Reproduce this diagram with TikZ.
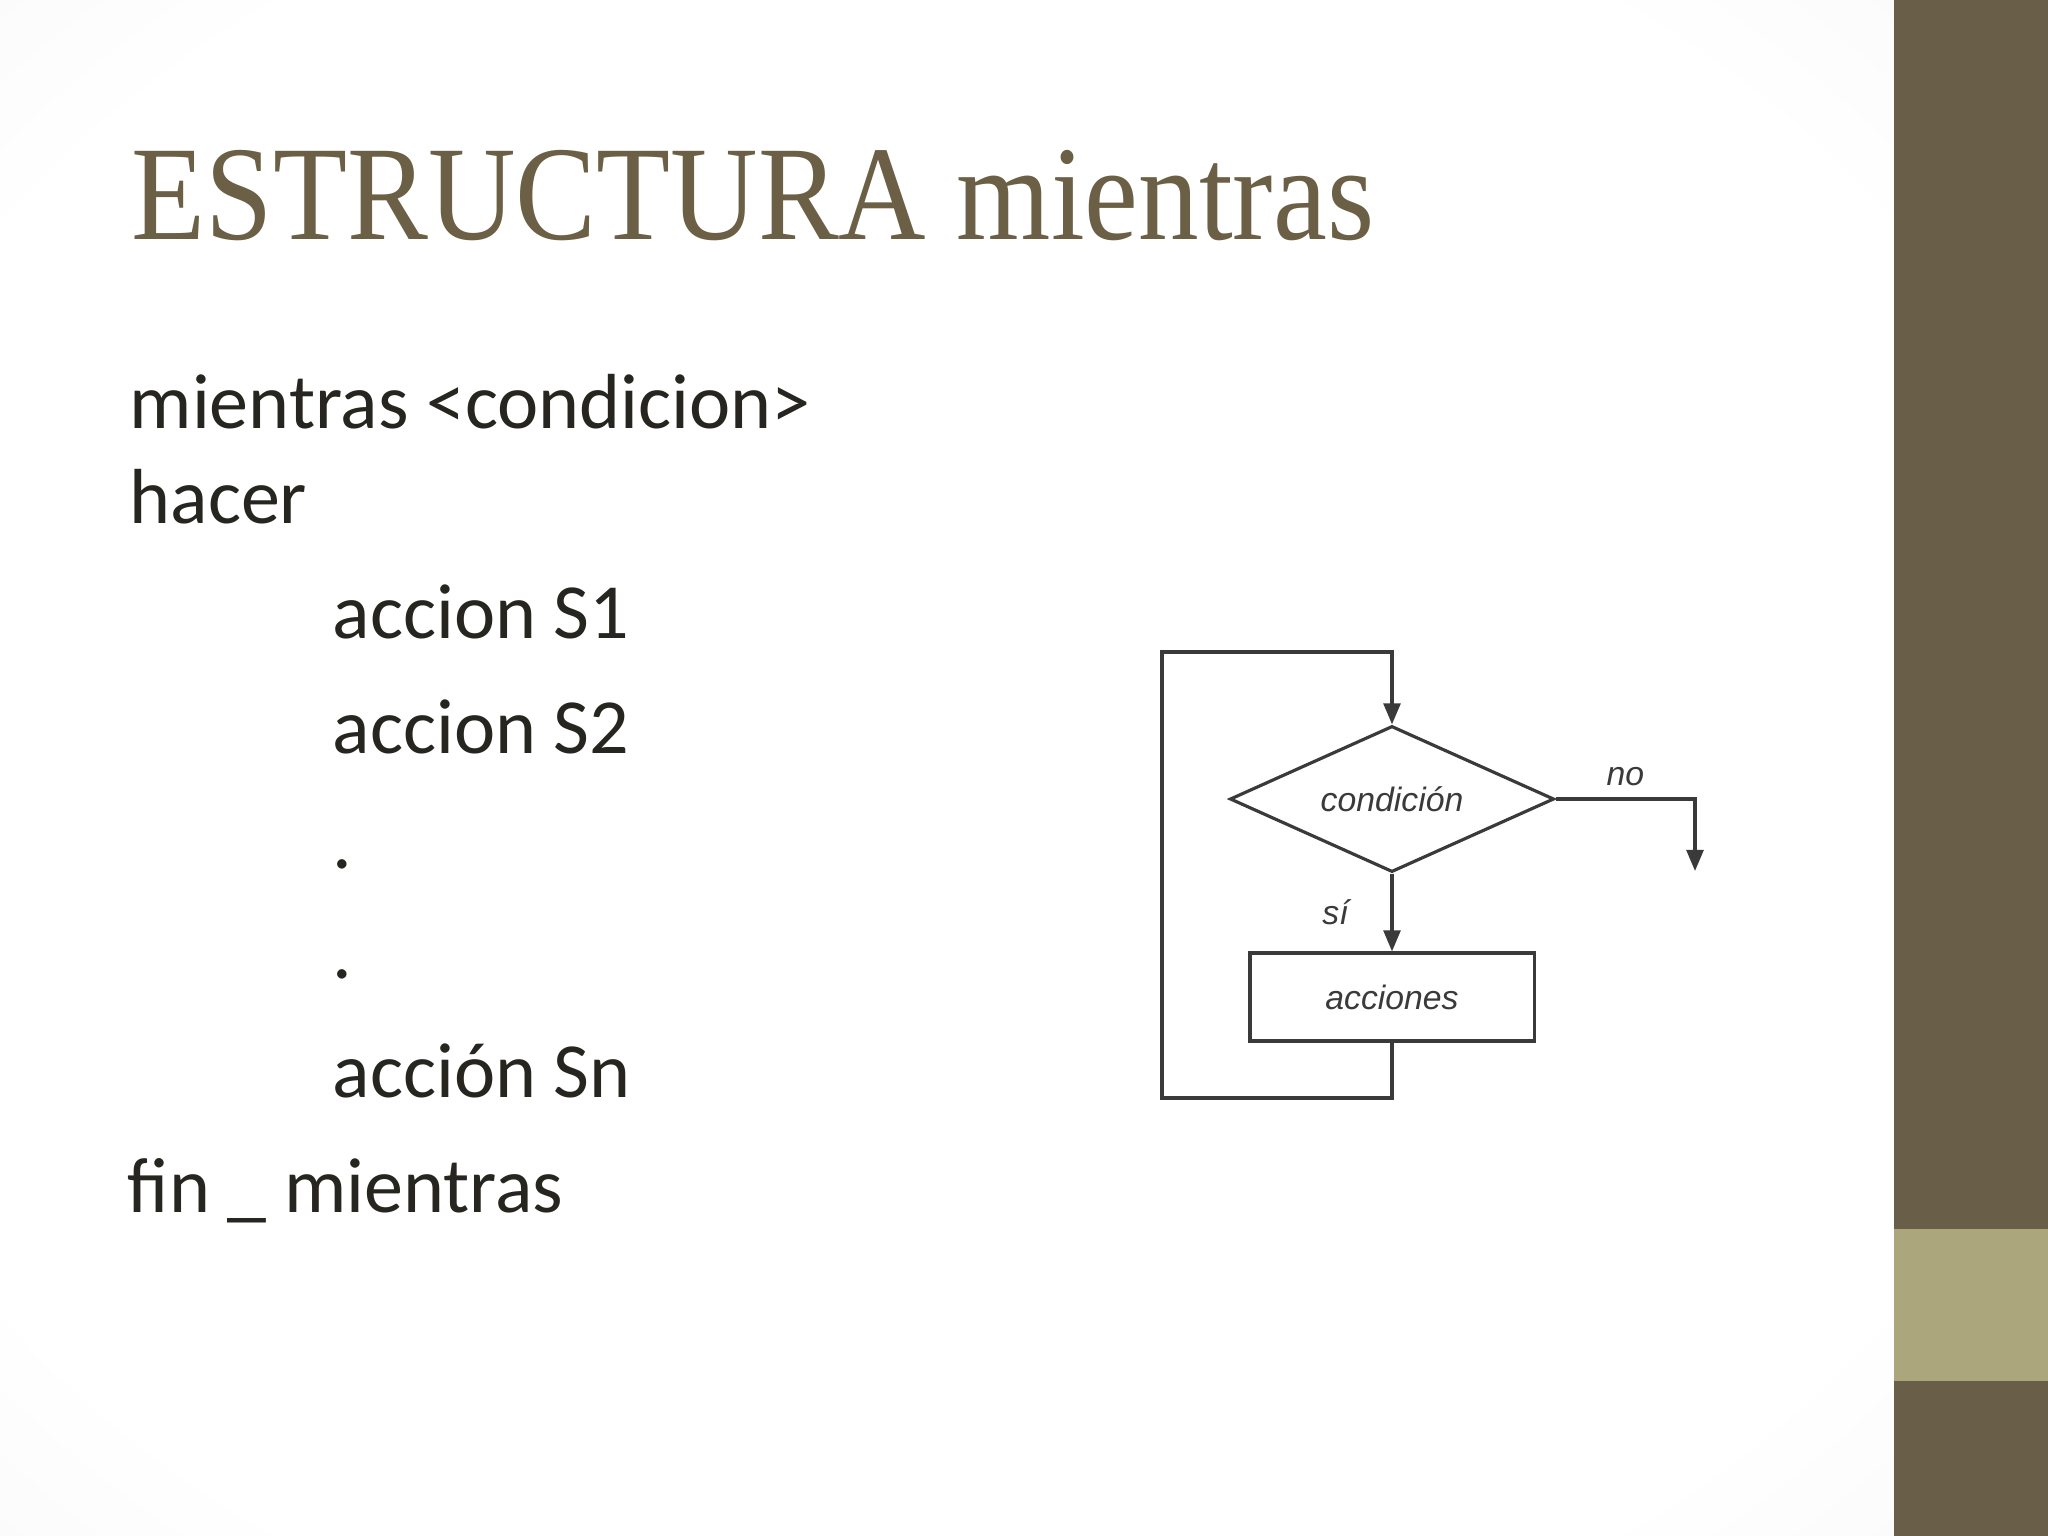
\documentclass[tikz,border=0pt]{standalone}
\usepackage{fontspec}
\setmainfont{Carlito}
\newfontfamily\titlefont{Liberation Serif}
\newfontfamily\chartfont{Liberation Sans}
\usetikzlibrary{shapes.geometric,arrows.meta,positioning}
\definecolor{oliva}{HTML}{695E48}
\definecolor{olivaclara}{HTML}{ABA67C}
\definecolor{titulo}{HTML}{6B6046}
\definecolor{texto}{HTML}{26251F}
\definecolor{trazo}{HTML}{3A3A3A}
\pgfdeclareradialshading{fondo}{\pgfpoint{0bp}{0bp}}{color(0bp)=(white); color(30bp)=(white); color(55bp)=(black!7); color(75bp)=(black!10)}
\begin{document}
\begin{tikzpicture}[x=0.01cm,y=-0.01cm,
    linea/.style={font=\fontsize{22.2}{26}\selectfont, text=texto, anchor=base west, inner sep=0pt},
    trazado/.style={draw=trazo, line width=0.9pt},
    flecha/.style={trazado, -{Triangle[length=6pt,width=4.8pt]}},
    rotulo/.style={font=\chartfont\itshape\fontsize{9.6}{11}\selectfont, text=trazo}]
            \useasboundingbox (0,0) rectangle (2048,1536);

            % Slide background and the band on the right
            \shade[shading=fondo] (0,0) rectangle (1894,1536);
            \fill[oliva] (1894,0) rectangle (2048,1536);
            \fill[olivaclara] (1894,1229) rectangle (2048,1381);

            % Title
            \node[anchor=base west, inner sep=0pt, text=titulo, font=\titlefont\fontsize{38.3}{44}\selectfont] (titulo) at (131,239) {\scalebox{0.9}[1]{ESTRUCTURA mientras}};

            % Pseudocode lines
            \node[linea] (l1) at (129,428) {mientras <condicion>};
            \node[linea] (l2) at (129,523) {hacer};
            \node[linea] (l3) at (332,638) {accion S1}; % indented
            \node[linea] (l4) at (332,753) {accion S2};
            \node[linea] (l5) at (332,868) {.};
            \node[linea] (l6) at (332,978) {.};
            \node[linea] (l7) at (332,1097) {acción Sn};
            \node[linea] (l8) at (127,1212) {fin \_ mientras};

            % Flowchart: decision and action box
            \node[diamond, aspect=2.22, trazado, minimum width=3.24cm, minimum height=1.46cm, inner sep=0pt, rotulo] (cond) at (1392,799) {condición};
            \node[rectangle, trazado, minimum width=2.84cm, minimum height=0.88cm, inner sep=0pt, rotulo] (acc) at (1392,997) {acciones};

            % Loop corners and exit
            \coordinate (arriba) at (1392,652);
            \coordinate (esquina) at (1162,1098);
            \coordinate (salida) at (1695,871);

            % Connect the flowchart
            \draw[flecha] (cond.south) -- node[rotulo, midway, left=0.3cm] {sí} (acc.north);
            \draw[flecha] (cond.east) -| node[rotulo, pos=0.25, above] {no} (salida);
            \draw[flecha] (acc.south) |- (esquina) |- (arriba) -- (cond.north);
        \end{tikzpicture}
\end{document}
